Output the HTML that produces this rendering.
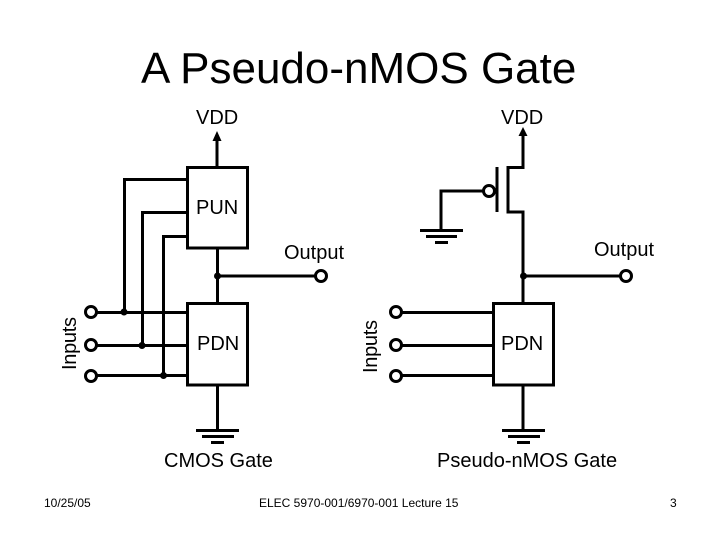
<!DOCTYPE html>
<html><head><meta charset="utf-8"><style>html,body{margin:0;padding:0;background:#fff}svg{display:block}text{font-family:"Liberation Sans",sans-serif;fill:#000}</style></head><body>
<svg width="720" height="540" viewBox="0 0 720 540" xmlns="http://www.w3.org/2000/svg">
<rect width="720" height="540" fill="#fff"/>
<text x="141" y="83" font-size="44">A Pseudo-nMOS Gate</text>
<g font-size="20">
<text x="196" y="124">VDD</text>
<text x="501" y="124">VDD</text>
<text x="196" y="214">PUN</text>
<text x="284" y="259">Output</text>
<text x="594" y="256">Output</text>
<text x="197" y="350">PDN</text>
<text x="501" y="350">PDN</text>
<text x="164" y="467">CMOS Gate</text>
<text x="437" y="467">Pseudo-nMOS Gate</text>
<text transform="translate(76,370) rotate(-90)" textLength="53">Inputs</text>
<text transform="translate(377,373) rotate(-90)" textLength="53">Inputs</text>
</g>
<g font-size="12">
<text x="44" y="507">10/25/05</text>
<text x="259" y="507">ELEC 5970-001/6970-001 Lecture 15</text>
<text x="670" y="507">3</text>
</g>
<g fill="none" stroke="#000" stroke-width="3">
<rect x="187.500" y="167.500" width="60" height="80.500"/>
<rect x="187.500" y="303.500" width="60" height="81.500"/>
<rect x="493.500" y="303.500" width="60" height="81.500"/>
<path d="M217 167V138M217.500 248V303M217 276H315M217.500 385V430"/>
<path d="M187 179.500H124.500V312M187 212.500H142.500V345M187 236.500H163.500V376"/>
<path d="M97 312.500H187M97 345.500H187M97 375.500H187"/>
<path d="M196 430.500H239M202 436.500H234M211 442.500H224"/>
<path d="M402 312.500H493M402 345.500H493M402 375.500H493"/>
<path d="M523 303V212H508V167.500H523V134M523 276H620M523 385V430"/>
<path d="M497 167V212"/>
<path d="M483 191H441V230"/>
<path d="M420 230.500H463M426 236.500H457M435 242.500H448"/>
<path d="M502 430.500H545M508 436.500H540M517 442.500H530"/>
</g>
<g fill="#000">
<path d="M217 131L212.500 141H221.500Z"/>
<path d="M523 127L518.500 136H527.500Z"/>
<circle cx="217.500" cy="276" r="3.500"/>
<circle cx="523.500" cy="276" r="3.500"/>
<circle cx="124" cy="312" r="3.500"/>
<circle cx="142" cy="345.500" r="3.500"/>
<circle cx="163.500" cy="375.500" r="3.500"/>
</g>
<g fill="#fff" stroke="#000" stroke-width="3">
<circle cx="91" cy="312" r="5.500"/>
<circle cx="91" cy="345" r="5.500"/>
<circle cx="91" cy="376" r="5.500"/>
<circle cx="396" cy="312" r="5.500"/>
<circle cx="396" cy="345" r="5.500"/>
<circle cx="396" cy="376" r="5.500"/>
<circle cx="321" cy="276" r="5.500"/>
<circle cx="626" cy="276" r="5.500"/>
<circle cx="489" cy="191" r="5.500"/>
</g>
</svg>
</body></html>
